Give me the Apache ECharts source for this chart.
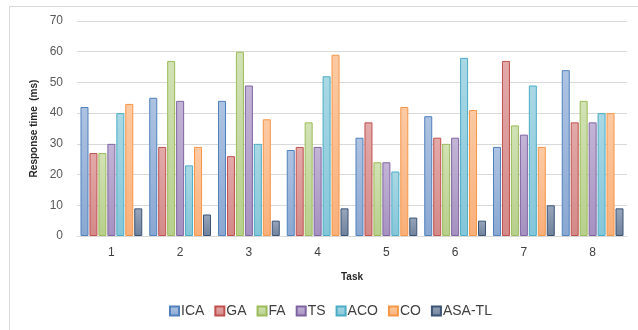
<!DOCTYPE html>
<html><head><meta charset="utf-8">
<script src="https://cdn.jsdelivr.net/npm/echarts@6/dist/echarts.min.js"></script>
<style>
html,body{margin:0;padding:0;background:#fff;}
#frame{position:absolute;left:9px;top:6px;width:640px;height:340px;border-left:1px solid #d9d9d9;border-top:1px solid #d9d9d9;}
#c{position:absolute;left:0;top:0;width:638px;height:330px;}
</style></head>
<body>
<div id="frame"></div>
<div id="c"></div>
<script>
const categories = ['1','2','3','4','5','6','7','8'];
const seriesNames = ['ICA','GA','FA','TS','ACO','CO','ASA-TL'];
const ICA   = [42,45,44,28,32,39,29,54];
const GA    = [27,29,26,29,37,32,57,37];
const FA    = [27,57,60,37,24,30,36,44];
const TS    = [30,44,49,29,24,32,33,37];
const ACO   = [40,23,30,52,21,58,49,40];
const CO    = [43,29,38,59,42,41,29,40];
const ASATL = [9,7,5,9,6,5,10,9];
const yTicks = [0,10,20,30,40,50,60,70];

const values = [ICA,GA,FA,TS,ACO,CO,ASATL];
const palette = [
  {top:'#aec3e2', bot:'#8aa8d2', border:'#4f81bd'},
  {top:'#e2aaa9', bot:'#d38a88', border:'#c0504d'},
  {top:'#d2e2b5', bot:'#b7cf8c', border:'#9bbb59'},
  {top:'#c3b5d6', bot:'#a591c0', border:'#8064a2'},
  {top:'#aad8e5', bot:'#84c6d9', border:'#4bacc6'},
  {top:'#fccaa4', bot:'#f9b07a', border:'#f79646'},
  {top:'#98a6bb', bot:'#6f819c', border:'#3b5375'}
];

const chart = echarts.init(document.getElementById('c'), null, {renderer:'canvas'});
chart.setOption({
  animation:false,
  grid:{left:77, right:11, top:21, bottom:94},
  legend:{
    bottom:7, left:164, itemWidth:9, itemHeight:9, itemGap:10,
    icon:'rect',
    textStyle:{fontFamily:'Liberation Sans, Arial', fontSize:14, color:'#404040', padding:[0,0,0,-3]},
    data: seriesNames
  },
  xAxis:{
    type:'category', data:categories,
    name:'Task', nameLocation:'middle', nameGap:36,
    nameTextStyle:{fontFamily:'Liberation Sans, Arial', fontWeight:'bold', fontSize:10, color:'#262626'},
    axisLine:{lineStyle:{color:'#d9d9d9'}},
    axisTick:{show:false},
    axisLabel:{fontFamily:'Liberation Sans, Arial', fontSize:12, color:'#404040', margin:11}
  },
  yAxis:{
    type:'value', min:0, max:70, interval:10,
    name:'Response time  (ms)', nameLocation:'middle', nameGap:37,
    nameTextStyle:{fontFamily:'Liberation Sans, Arial', fontWeight:'bold', fontSize:10, color:'#262626'},
    axisLine:{show:false}, axisTick:{show:false},
    splitLine:{lineStyle:{color:'#d9d9d9'}},
    axisLabel:{fontFamily:'Liberation Sans, Arial', fontSize:12, color:'#595959', margin:14,
      formatter:v=>yTicks.includes(v)?String(v):''}
  },
  series: seriesNames.map((n,i)=>({
    name:n, type:'bar', data:values[i],
    barWidth:8, barGap:'12%', barCategoryGap:'8%',
    itemStyle:{
      color:new echarts.graphic.LinearGradient(0,0,0,1,[{offset:0,color:palette[i].top},{offset:1,color:palette[i].bot}]),
      borderColor:palette[i].border, borderWidth:1
    }
  }))
});
</script>
</body></html>
